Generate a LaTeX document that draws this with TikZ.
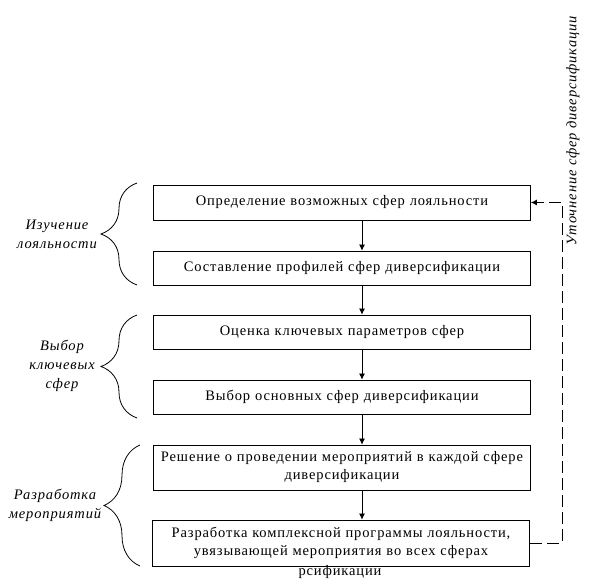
\documentclass[tikz,border=0pt]{standalone}
\usepackage{fontspec}
\setmainfont{Liberation Serif}
\newfontfamily\spaziato[LetterSpace=6]{Liberation Serif}
\usetikzlibrary{arrows.meta,decorations.pathreplacing}
\tikzset{
  blocco/.style  = {rectangle, draw, line width=0.8pt, minimum width=377pt, text width=372pt, align=center, inner sep=0pt, font=\spaziato\fontsize{14.5}{18}\selectfont},
  testo/.style   = {inner sep=0pt, font=\spaziato\fontsize{14.5}{18}\selectfont},
  etich/.style   = {align=center, inner sep=0pt, font=\spaziato\itshape\fontsize{14.5}{19}\selectfont},
  graffa/.style  = {line width=0.8pt, decorate, decoration={brace, amplitude=36pt}},
  freccia/.style = {line width=0.8pt, -{Latex[length=6pt,width=6pt]}},
  tratt/.style   = {line width=0.8pt, dash pattern=on 12pt off 5pt, -{Latex[length=6pt,width=6pt]}}
}

\begin{document}
\begin{tikzpicture}[x=1pt, y=-1pt]
  \useasboundingbox (0,0) rectangle (590,580);

  % blocchi
  \node[blocco, minimum height=35pt] (b1) at (342,202.5) {Определение возможных сфер лояльности};
  \node[blocco, minimum height=34pt] (b2) at (342,268) {Составление профилей сфер диверсификации};
  \node[blocco, minimum height=34pt] (b3) at (342,332) {Оценка ключевых параметров сфер};
  \node[blocco, minimum height=34pt] (b4) at (342,397) {Выбор основных сфер диверсификации};
  \node[blocco, minimum height=45pt] (b5) at (342,467.5) {Решение о проведении мероприятий в каждой сфере\\диверсификации};
  \node[blocco, minimum height=46pt] (b6) at (341,543) {Разработка комплексной программы лояльности,\\увязывающей мероприятия во всех сферах};
  \node[testo, anchor=base] (b6c) at (340,575) {рсификации};

  % frecce
  \coordinate (fx) at (362,0);
  \foreach \a/\b in {b1/b2, b2/b3, b3/b4, b4/b5, b5/b6}
    \draw[freccia] (\a.south -| fx) -- (\b.north -| fx);

  % ritorno
  \coordinate (rv) at (562,0);
  \draw[tratt] (b6.east) -| (rv |- b1.east) -- (b1.east);
  \node[etich, rotate=90] (ut) at (573,131) {Уточнение сфер диверсификации};

  % graffe
  \draw[graffa] (137,285) -- (137,183);
  \draw[graffa] (137,418) -- (137,315);
  \draw[graffa] (140,566) -- (140,445);
  \node[etich] (l1) at (57,234) {Изучение\\лояльности};
  \node[etich] (l2) at (62,366) {Выбор\\ключевых\\сфер};
  \node[etich] (l3) at (55,505) {Разработка\\мероприятий};

\end{tikzpicture}
\end{document}
